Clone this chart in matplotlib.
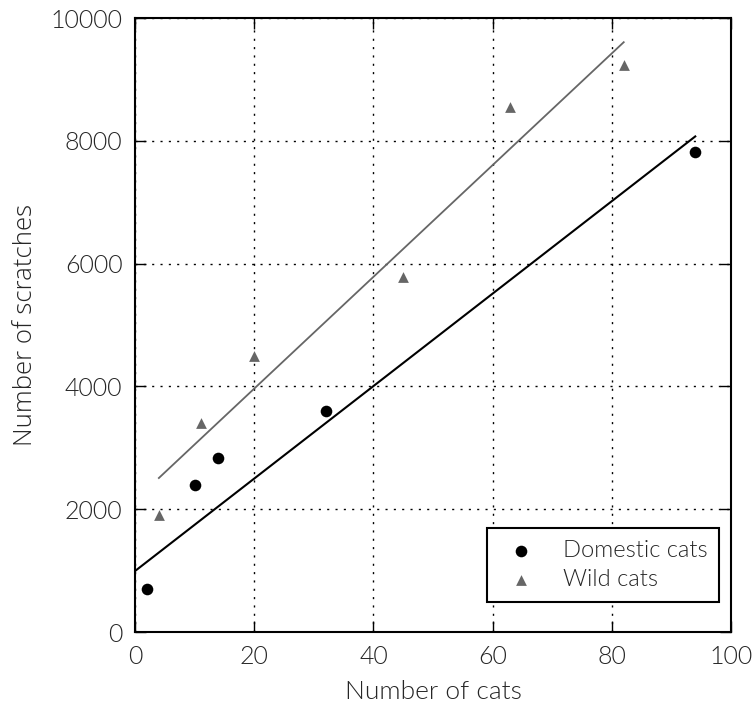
import matplotlib
matplotlib.use("Agg")
import matplotlib.pyplot as plt
import numpy as np

# Data
domestic_x = [2, 10, 14, 32, 94]
domestic_y = [700, 2400, 2840, 3600, 7820]
wild_x = [4, 11, 20, 45, 63, 82]
wild_y = [1905, 3400, 4495, 5780, 8550, 9235]

# Fitted lines (slope, intercept, x-range)
domestic_fit = (75.3, 993)
domestic_fit_range = [0, 94]
wild_fit = (91.0, 2144)
wild_fit_range = [4, 82]

xticks = [0, 20, 40, 60, 80, 100]
yticks = [0, 2000, 4000, 6000, 8000, 10000]

plt.rcParams['font.family'] = ['Lato', 'DejaVu Sans']
TXT = '#262626'
W = 300

fig = plt.figure(figsize=(7.53, 7.06), dpi=100)
ax = fig.add_axes([0.1793, 0.1048, 0.9708 - 0.1793, 0.9745 - 0.1048])

ax.scatter(domestic_x, domestic_y, s=70, c='black', marker='o', label='Domestic cats', zorder=3, linewidths=0)
ax.scatter(wild_x, wild_y, s=60, c='#666666', marker='^', label='Wild cats', zorder=3, linewidths=0)

dx = np.array(domestic_fit_range, dtype=float)
ax.plot(dx, domestic_fit[0] * dx + domestic_fit[1], color='black', lw=1.5, zorder=2)
wx = np.array(wild_fit_range, dtype=float)
ax.plot(wx, wild_fit[0] * wx + wild_fit[1], color='#666666', lw=1.3, zorder=2)

ax.set_xlim(0, 100)
ax.set_ylim(0, 10000)
ax.set_xticks(xticks)
ax.set_yticks(yticks)
ax.set_xticklabels([str(v) for v in xticks], fontsize=18, fontweight=W, color=TXT)
ax.set_yticklabels([str(v) for v in yticks], fontsize=18, fontweight=W, color=TXT)
ax.tick_params(direction='in', length=8, width=1, top=True, right=True, pad=9)
ax.grid(True, linestyle=(0, (1.5, 4.5)), color='black', lw=1)

for sp in ax.spines.values():
    sp.set_linewidth(1.5)

ax.set_xlabel('Number of cats', fontsize=19, fontweight=W, color=TXT, labelpad=8)
ax.set_ylabel('Number of scratches', fontsize=18.5, fontweight=W, color=TXT,
              family=['Open Sans', 'DejaVu Sans'], labelpad=9)

leg = ax.legend(loc='lower right', bbox_to_anchor=(0.98, 0.049), scatterpoints=1, fontsize=17,
                fancybox=False, edgecolor='black', framealpha=1, borderpad=0.5,
                handletextpad=0.8, borderaxespad=0.0, labelspacing=0.35, handlelength=1.9)
leg.get_frame().set_linewidth(1.5)
for t in leg.get_texts():
    t.set_color(TXT)
    t.set_fontweight(W)

fig.savefig('out.png', dpi=100)
